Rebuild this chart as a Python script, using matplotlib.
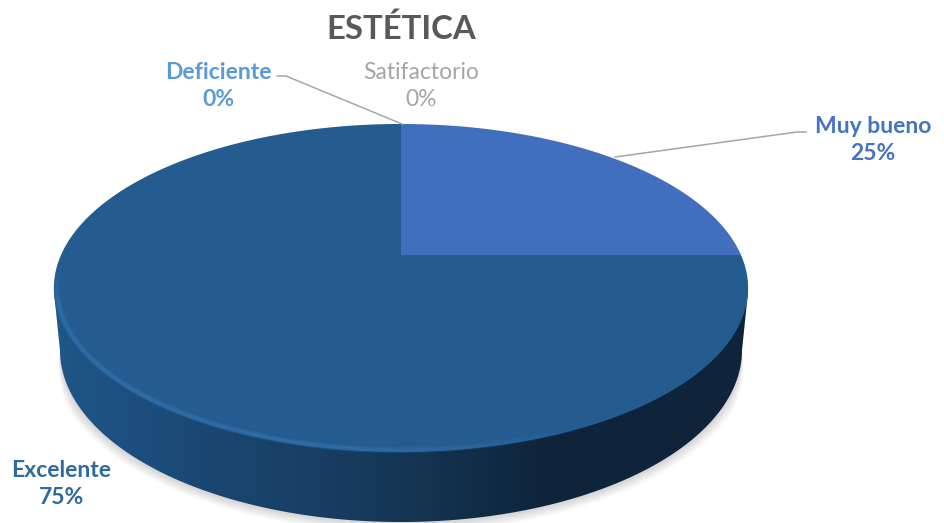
import numpy as np
import matplotlib
matplotlib.use("Agg")
import matplotlib.pyplot as plt
from matplotlib.collections import LineCollection
from matplotlib.colors import to_rgb
from matplotlib.patches import Polygon
from matplotlib.path import Path
from matplotlib.transforms import Transform

categories = ["Deficiente", "Satifactorio", "Muy bueno", "Excelente"]
values = [0, 0, 25, 75]
slice_colors = ["#5B9BD5", "#A5A5A5", "#416FBD", "#255C8F"]
label_colors = ["#5B9BD5", "#A5A5A5", "#4472C4", "#2F6A9F"]
title = "ESTÉTICA"

# Perspective of the disc, in picture pixels
CX, APEX_Y, A, B, K = 401.0, 255.0, 340.0, 157.4, 0.2012


class DiscPerspective(Transform):
    input_dims = output_dims = 2
    is_separable = False
    has_inverse = False

    def transform_non_affine(self, values):
        v = np.asarray(values, dtype=float)
        d = 1 + K * v[:, 1]
        return np.column_stack([CX + A * v[:, 0] / d, APEX_Y - B * v[:, 1] / d])

    def transform_path_non_affine(self, path):
        t = np.linspace(0, 1, 40)
        pts = [seg(t) for seg, _ in path.iter_bezier()]
        return Path(self.transform_non_affine(np.vstack(pts)))


persp = DiscPerspective()

fig = plt.figure(figsize=(9.44, 5.23), dpi=100, facecolor="white")
ax = fig.add_axes([0, 0, 1, 1])

wedges, _ = ax.pie(values, colors=slice_colors, startangle=90, counterclock=False,
                   wedgeprops={"linewidth": 0})
for w in wedges:
    w.set_transform(persp + ax.transData)
    w.set_clip_on(False)
    w.set_zorder(3)
    w.set_antialiased(True)

# Wall outline: lower ellipse below the widest line of the top face
BOT_CY, BOT_RX, BOT_RY = 350.0, 341.0, 172.0
th = np.linspace(0, np.pi, 300)
lower = np.column_stack([CX + BOT_RX * np.cos(th), BOT_CY + BOT_RY * np.sin(th)])
wall = np.vstack([[[748, 292]], lower, [[54, 292]]])

# Soft shadow, tapering away towards the widest line
taper = np.minimum(1, np.sin(th) * 3)
for grow, dy in zip(np.arange(10, 0, -1), np.linspace(3, 1, 10)):
    ell = np.column_stack([CX + (BOT_RX + grow * taper) * np.cos(th),
                           BOT_CY + dy * taper + (BOT_RY + grow * .75) * np.sin(th)])
    ax.add_patch(Polygon(np.vstack([[[748, 292]], ell, [[54, 292]]]), closed=True,
                         fc="black", ec="none", alpha=0.016, zorder=1))

# Wall gradient
sx = [53, 120, 200, 300, 400, 470, 540, 750]
scol = np.array([to_rgb(c) for c in ["#1E5788", "#1D5080", "#1B4872", "#183F66",
                                     "#153755", "#112D48", "#0F253C", "#0F243A"]])
xs = np.arange(53, 750)
grad = np.stack([np.interp(xs, sx, scol[:, i]) for i in range(3)], axis=-1)[None, :, :]
im = ax.imshow(grad, extent=(53, 750, 530, 280), aspect="auto", zorder=2, interpolation="bilinear")
clip = Polygon(wall, closed=True, transform=ax.transData, fc="none", ec="none")
ax.add_patch(clip)
im.set_clip_path(clip)

# Light bevel round the front edge of the top face
ang = np.radians(np.linspace(160, 300, 400))
for r, lw, al in [(0.992, 4.5, .3), (0.992, 2.5, .55)]:
    p = persp.transform(np.column_stack([r * np.cos(ang), r * np.sin(ang)]))
    segs = np.stack([p[:-1], p[1:]], axis=1)
    f = np.clip((600 - p[:-1, 0]) / 250, 0, 1) * np.clip((p[:-1, 1] - 265) / 40, 0, 1)
    rgba = np.zeros((len(segs), 4))
    rgba[:, :3] = to_rgb("#3274B0")
    rgba[:, 3] = al * f
    ax.add_collection(LineCollection(segs, colors=rgba, linewidths=lw, zorder=4, capstyle="butt"))

# Leader lines
ax.plot([277, 286, 402], [76, 76, 124], color="#A6A6A6", lw=1.1, zorder=5)
ax.plot([615, 797, 806], [157, 132, 132], color="#A6A6A6", lw=1.1, zorder=5)

# Labels
label_pos = [(218, 86), (421, 86), (873, 140), (61, 484)]
total = sum(values)
for cat, val, col, (lx, ly) in zip(categories, values, label_colors, label_pos):
    weight = "normal" if cat == "Satifactorio" else "bold"
    ax.text(lx, ly, f"{cat}\n{100 * val / total:.0f}%", color=col, ha="center", va="center",
            family="Lato", fontsize=16.5, fontweight=weight, linespacing=1.38, zorder=6)

ax.text(401, 29, title, color="#595959", ha="center", va="center",
        family="Lato", fontsize=23.7, fontweight="bold", zorder=6)

ax.set_aspect("auto")
ax.set_xlim(0, 944)
ax.set_ylim(523, 0)
ax.set_axis_off()

fig.savefig("out.png", dpi=100, facecolor="white")
